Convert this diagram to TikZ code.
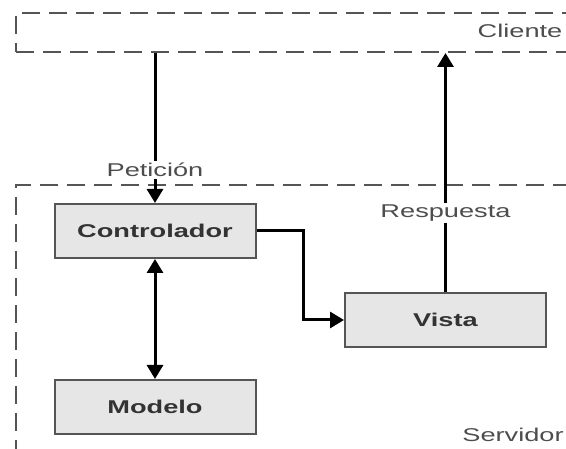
\documentclass[tikz,border=0pt]{standalone}
\usepackage{fontspec}
\setmainfont{Liberation Sans}[FakeStretch=1.47]
\usetikzlibrary{positioning,arrows.meta}
\definecolor{boxgray}{HTML}{E6E6E6}
\definecolor{edgegray}{HTML}{555555}
\definecolor{textgray}{HTML}{4D4D4D}

\begin{document}
\begin{tikzpicture}[x=1pt, y=-1pt, >={Triangle[length=14pt,width=16pt]},
  every node/.style={font=\fontsize{18.5}{22}\selectfont},
  tier/.style={draw=edgegray, line width=2pt, dash pattern=on 18pt off 9pt,
    anchor=north west, inner sep=0pt},
  block/.style={draw=edgegray, fill=boxgray, line width=2pt,
    minimum width=201pt, minimum height=54pt, text=black!80,
    font=\fontsize{18.5}{22}\selectfont\bfseries},
  tag/.style={text=textgray, fill=white, inner sep=2pt},
  link/.style={line width=3pt}]
\clip (0,0) rectangle (566,449);

% plot tiers
\node [tier, minimum width=600pt, minimum height=39pt] (cliente) at (15,12) {};
\node [tier, minimum width=600pt, minimum height=300pt] (servidor) at (15,184) {};
\node [text=textgray] (cliente-label) at (520,31) {Cliente};
\node [text=textgray] (servidor-label) at (513,435) {Servidor};

% plot blocks
\foreach \n/\t/\x/\y in {ctrl/Controlador/155/231, modelo/Modelo/155/407, vista/Vista/445.5/320}
  \node [block] (\n) at (\x,\y) {\t};

\draw [link, ->] (cliente.south -| ctrl.north) -- (ctrl.north)
  node [tag, pos=0.78] (peticion) {Petición};

\draw [link, ->] (vista.north) -- (vista.north |- cliente.south)
  node [tag, pos=0.33] (respuesta) {Respuesta};

\draw [link, <->] (ctrl.south) -- (modelo.north);

\draw [link, ->] (ctrl.east) -- ++(47,0) |- (vista.west);
\end{tikzpicture}
\end{document}
